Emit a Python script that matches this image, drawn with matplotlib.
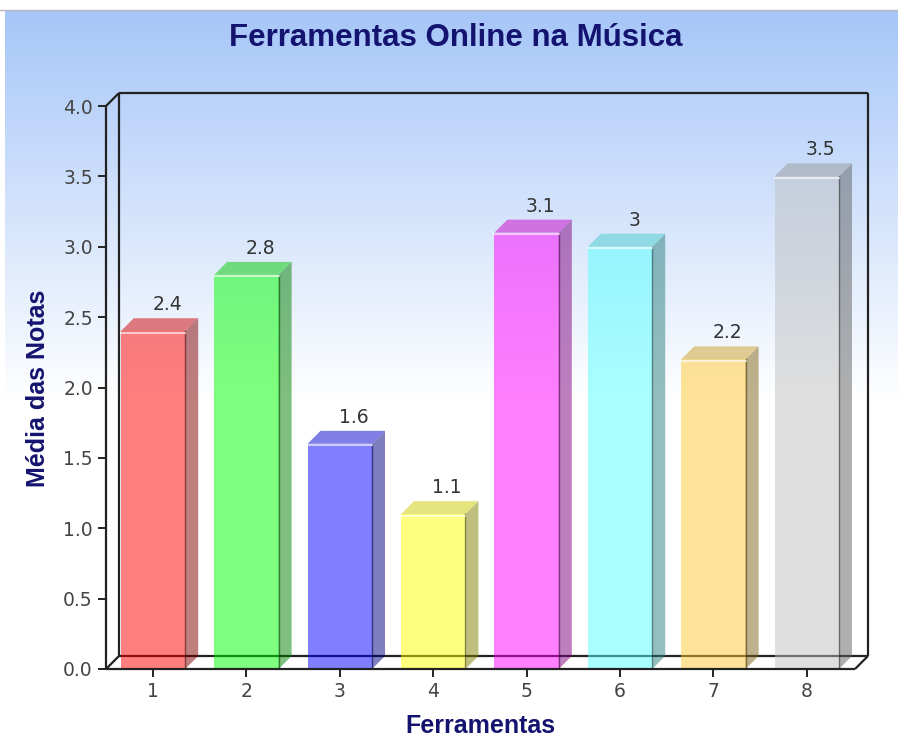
import numpy as np
import matplotlib.pyplot as plt
from matplotlib.patches import Polygon, Rectangle
from matplotlib.colors import to_rgb

categories = ['1', '2', '3', '4', '5', '6', '7', '8']
values = [2.4, 2.8, 1.6, 1.1, 3.1, 3.0, 2.2, 3.5]
value_labels = ['2.4', '2.8', '1.6', '1.1', '3.1', '3', '2.2', '3.5']
bar_colors = ['#ff0000', '#00ff00', '#0000ff', '#ffff00',
              '#ff00ff', '#55ffff', '#ffc832', '#c0c0c0']
y_ticks = [0.0, 0.5, 1.0, 1.5, 2.0, 2.5, 3.0, 3.5, 4.0]
title = 'Ferramentas Online na Música'
x_title = 'Ferramentas'
y_title = 'Média das Notas'

W, H = 898, 737
navy = '#141470'
line_col = '#222222'

fig = plt.figure(figsize=(W / 100, H / 100), dpi=100)

# gradient background (light blue -> white)
bg = fig.add_axes([5 / W, 0, 1 - 5 / W, (H - 10) / H], zorder=-10)
rows = np.arange(H - 10)
t = np.clip(rows / 390.0, 0, 1)
top = np.array([166, 198, 248]) / 255.0
grad = top[None, :] * (1 - t[:, None]) + t[:, None]
bg.imshow(grad[:, None, :], aspect='auto', extent=[0, 1, 0, 1])
bg.axis('off')
fig.add_artist(plt.Line2D([0, 1], [(H - 9.5) / H] * 2, color='#b8b8b8', lw=1))

# plot area in pixels
px_l, px_r, px_b = 106, 868, 669
px_front_top = 106
depth_px_x, depth_px_y = 13, 13
px_t = px_front_top - depth_px_y
ax = fig.add_axes([px_l / W, (H - px_b) / H, (px_r - px_l) / W, (px_b - px_t) / H])
ax.patch.set_alpha(0)

step_px = 93.4
first_px = 153
val_px = (px_b - px_front_top) / 4.0
xl = 1 - (first_px - px_l) / step_px
xr = 1 + (px_r - first_px) / step_px
dx = depth_px_x / step_px
dy = depth_px_y / val_px
ax.set_xlim(xl, xr)
ax.set_ylim(0, 4 + dy)

for s in ['top', 'right', 'bottom', 'left']:
    ax.spines[s].set_visible(False)

# walls and floor
lk = dict(color=line_col, lw=1.6, clip_on=False, solid_capstyle='butt')
ax.plot([xl, xl], [0, 4], zorder=1, **lk)
ax.plot([xl, xl + dx], [4, 4 + dy], zorder=1, **lk)
ax.plot([xl + dx, xl + dx], [dy, 4 + dy], zorder=1, **lk)
ax.plot([xl + dx, xr], [4 + dy, 4 + dy], zorder=1, **lk)
ax.plot([xr, xr], [dy, 4 + dy], zorder=1, **lk)
ax.plot([xl + dx, xr], [dy, dy], zorder=1, **lk)
ax.plot([xl, xl + dx], [0, dy], zorder=1, **lk)
ax.plot([xr - dx, xr], [0, dy], zorder=1, **lk)

# bars
hw = 0.345
for i, (v, c) in enumerate(zip(values, bar_colors)):
    x = i + 1
    base = np.array(to_rgb(c))
    ax.add_patch(Rectangle((x - hw, 0), 2 * hw, v, facecolor=base, alpha=0.5,
                           edgecolor='none', zorder=3))
    side = Polygon([(x + hw, 0), (x + hw + dx, dy), (x + hw + dx, v + dy), (x + hw, v)],
                   closed=True, facecolor=base * 0.5, alpha=0.5, edgecolor='none', zorder=3)
    ax.add_patch(side)
    topf = Polygon([(x - hw, v), (x + hw, v), (x + hw + dx, v + dy), (x - hw + dx, v + dy)],
                   closed=True, facecolor=base * 0.8, alpha=0.5, edgecolor='none', zorder=3)
    ax.add_patch(topf)
    ax.plot([x + hw, x + hw], [0, v], color=base * 0.3, alpha=0.6, lw=1, zorder=4)
    ax.plot([x - hw, x + hw], [v - 1.5 / val_px] * 2, color='white', alpha=0.6, lw=1.5, zorder=4)
    ax.text(x + 0.15, v + dy + 4 / val_px, value_labels[i], ha='center', va='bottom',
            fontsize=13.5, color='#333333', family='DejaVu Sans', zorder=5)

# front floor line on top of bars
ax.plot([xl, xr - dx], [0, 0], zorder=5, **lk)

ax.set_xticks(range(1, len(categories) + 1))
ax.set_xticklabels(categories)
ax.set_yticks(y_ticks)
ax.set_yticklabels(['%.1f' % v for v in y_ticks])
ax.tick_params(axis='both', direction='out', length=5.5, width=1.4, color=line_col,
               labelsize=13.5, labelcolor='#444444', pad=4)
for lab in ax.get_xticklabels() + ax.get_yticklabels():
    lab.set_family('DejaVu Sans')

fig.text(456 / W, 1 - 38 / H, title, ha='center', va='center', fontsize=22.5,
         fontweight='bold', color=navy, family='Liberation Sans')
fig.text(480 / W, 1 - 726 / H, x_title, ha='center', va='center', fontsize=18,
         fontweight='bold', color=navy, family='Liberation Sans')
fig.text(38 / W, 1 - 388 / H, y_title, ha='center', va='center', rotation=90,
         fontsize=18, fontweight='bold', color=navy, family='Liberation Sans')

fig.savefig('out.png', dpi=100)
